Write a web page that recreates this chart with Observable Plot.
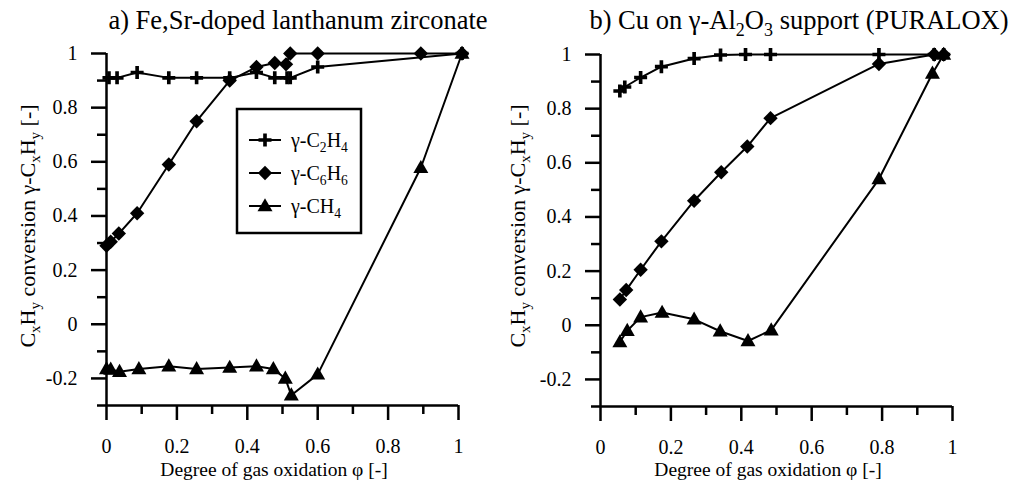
<!DOCTYPE html>
<html>
<head>
<meta charset="utf-8">
<script src="https://cdn.jsdelivr.net/npm/d3@7"></script>
<script src="https://cdn.jsdelivr.net/npm/@observablehq/plot@0.6"></script>
<style>
  html, body { margin: 0; padding: 0; background: #fff; }
  #wrap { position: relative; width: 1028px; height: 484px; overflow: hidden; background: #fff; }
  #wrap svg { position: absolute; top: 0; overflow: visible; }
  #wrap, #wrap svg, #wrap svg text, #wrap svg tspan { font-family: "Liberation Serif", "Times New Roman", Times, serif !important; }
</style>
</head>
<body>
<div id="wrap"></div>
<script>
// ---------------- data ----------------
// Panel a) Fe,Sr-doped lanthanum zirconate
const aC2H4_x = [0.007, 0.03, 0.087, 0.177, 0.256, 0.35, 0.426, 0.478, 0.513, 0.522, 0.60, 1.01];
const aC2H4_y = [0.91, 0.91, 0.93, 0.91, 0.91, 0.91, 0.93, 0.91, 0.91, 0.91, 0.95, 1.0];
const aC6H6_x = [0.0, 0.012, 0.035, 0.087, 0.177, 0.256, 0.35, 0.426, 0.478, 0.51, 0.522, 0.60, 0.893, 1.01];
const aC6H6_y = [0.29, 0.305, 0.335, 0.41, 0.59, 0.75, 0.90, 0.95, 0.965, 0.96, 1.0, 1.0, 1.0, 1.0];
const aCH4_x = [0.0, 0.012, 0.037, 0.092, 0.177, 0.256, 0.35, 0.426, 0.474, 0.508, 0.525, 0.60, 0.893, 1.01];
const aCH4_y = [-0.165, -0.167, -0.175, -0.165, -0.155, -0.165, -0.16, -0.155, -0.165, -0.2, -0.262, -0.185, 0.578, 1.0];

// Panel b) Cu on γ-Al2O3 support (PURALOX)
const bC2H4_x = [0.055, 0.069, 0.114, 0.173, 0.266, 0.341, 0.412, 0.483, 0.791, 0.948, 0.975];
const bC2H4_y = [0.865, 0.88, 0.915, 0.955, 0.985, 0.998, 1.0, 1.0, 1.0, 1.0, 1.0];
const bC6H6_x = [0.055, 0.073, 0.114, 0.173, 0.266, 0.343, 0.417, 0.483, 0.791, 0.948, 0.975];
const bC6H6_y = [0.095, 0.13, 0.205, 0.31, 0.46, 0.565, 0.66, 0.765, 0.965, 1.0, 1.0];
const bCH4_x = [0.055, 0.076, 0.114, 0.175, 0.266, 0.34, 0.419, 0.485, 0.791, 0.943, 0.975];
const bCH4_y = [-0.062, -0.02, 0.03, 0.047, 0.022, -0.022, -0.058, -0.018, 0.54, 0.93, 1.0];

// axes ticks
const xMajor = [0, 0.2, 0.4, 0.6, 0.8, 1];
const xMinor = [0.1, 0.3, 0.5, 0.7, 0.9];
const yMajor = [-0.2, 0, 0.2, 0.4, 0.6, 0.8, 1];
const yMinor = [-0.3, -0.1, 0.1, 0.3, 0.5, 0.7, 0.9];
const xDomain = [0, 1];
const yDomain = [-0.3, 1];

// text (parts: [string, isSubscript])
const titleA = [["a) Fe,Sr-doped lanthanum zirconate", 0]];
const titleB = [["b) Cu on γ-Al", 0], ["2", 1], ["O", 0], ["3", 1], [" support (PURALOX)", 0]];
const yLabel = [["C", 0], ["x", 1], ["H", 0], ["y", 1], [" conversion γ-C", 0], ["x", 1], ["H", 0], ["y", 1], [" [-]", 0]];
const xLabel = "Degree of gas oxidation φ [-]";
const legendNames = [
  [["γ-C", 0], ["2", 1], ["H", 0], ["4", 1]],
  [["γ-C", 0], ["6", 1], ["H", 0], ["6", 1]],
  [["γ-CH", 0], ["4", 1]]
];

// ---------------- helpers ----------------
const FONT = '"Liberation Serif", "Times New Roman", Times, serif';
const zip = (xs, ys) => xs.map((x, i) => ({x, y: ys[i]}));

const symPlus = {draw(ctx, size) {
  const r = Math.sqrt(size / Math.PI), t = r * 0.28;
  ctx.moveTo(-r, -t); ctx.lineTo(-t, -t); ctx.lineTo(-t, -r); ctx.lineTo(t, -r);
  ctx.lineTo(t, -t); ctx.lineTo(r, -t); ctx.lineTo(r, t); ctx.lineTo(t, t);
  ctx.lineTo(t, r); ctx.lineTo(-t, r); ctx.lineTo(-t, t); ctx.lineTo(-r, t); ctx.closePath();
}};
const symDiamond = {draw(ctx, size) {
  const r = Math.sqrt(size / Math.PI);
  ctx.moveTo(0, -r); ctx.lineTo(r, 0); ctx.lineTo(0, r); ctx.lineTo(-r, 0); ctx.closePath();
}};
const symTri = {draw(ctx, size) {
  const r = Math.sqrt(size / Math.PI);
  ctx.moveTo(0, -r * 1.05); ctx.lineTo(r, r * 0.7); ctx.lineTo(-r, r * 0.7); ctx.closePath();
}};
const symbols = [symPlus, symDiamond, symTri];
const radii = [6.5, 7.2, 7.5];

function rich(textSel, parts, fs) {
  let sub = false;
  for (const [s, isSub] of parts) {
    const t = textSel.append("tspan").text(s);
    if (isSub && !sub) { t.style("font-size", fs * 0.68 + "px").attr("dy", fs * 0.25); sub = true; }
    else if (isSub) { t.style("font-size", fs * 0.68 + "px"); }
    else if (!isSub && sub) { t.attr("dy", -fs * 0.25); sub = false; }
  }
}

function panel(series, o) {
  const marks = [];
  series.forEach((d, i) => {
    marks.push(Plot.line(d, {x: "x", y: "y", stroke: "black", strokeWidth: 2}));
    marks.push(Plot.dot(d, {x: "x", y: "y", symbol: symbols[i], r: radii[i], fill: "black", stroke: "none"}));
  });
  const chart = Plot.plot({
    width: o.width, height: 484,
    marginLeft: o.ml, marginRight: o.mr, marginTop: o.mt, marginBottom: o.mb,
    style: {fontFamily: FONT, fontSize: "20px", color: "black", background: "transparent", overflow: "visible"},
    x: {domain: xDomain},
    y: {domain: yDomain},
    marks: [
      Plot.axisX(xMinor, {tickSize: 9, tickFormat: () => "", strokeWidth: 2.5, label: null}),
      Plot.axisX(xMajor, {tickSize: 15, tickPadding: 18, tickFormat: d => String(d), fontSize: 20, strokeWidth: 2.5, label: null}),
      Plot.axisY(yMinor, {tickSize: 9, tickFormat: () => "", strokeWidth: 2.5, label: null}),
      Plot.axisY(yMajor, {tickSize: 15, tickPadding: 14, tickFormat: d => String(d), fontSize: 20, strokeWidth: 2.5, label: null}),
      Plot.ruleX([0], {y1: -0.3, y2: 1, stroke: "black", strokeWidth: 2.5}),
      Plot.ruleY([-0.3], {x1: 0, x2: 1, stroke: "black", strokeWidth: 2.5}),
      ...marks
    ]
  });
  chart.style.left = o.left + "px";
  document.getElementById("wrap").appendChild(chart);
  const svg = d3.select(chart);
  // title
  const tt = svg.append("text").attr("x", o.titleX).attr("y", 29).attr("text-anchor", "middle")
    .style("font-size", "26.5px").attr("fill", "black");
  rich(tt, o.title, 26.5);
  // y label
  const yl = svg.append("text").attr("transform", `translate(${o.ylX},${o.ylY}) rotate(-90)`)
    .attr("text-anchor", "middle").attr("dy", "0.35em")
    .style("font-size", "22px").attr("fill", "black");
  rich(yl, yLabel, 22);
  // x label
  svg.append("text").attr("x", o.xlX).attr("y", 476).attr("text-anchor", "middle")
    .style("font-size", "19.5px").attr("fill", "black").text(xLabel);
  return svg;
}

// ---------------- panel a ----------------
const svgA = panel([zip(aC2H4_x, aC2H4_y), zip(aC6H6_x, aC6H6_y), zip(aCH4_x, aCH4_y)], {
  left: 0, width: 500, ml: 106, mr: 42, mt: 53, mb: 79,
  title: titleA, titleX: 298, ylX: 27, ylY: 226, xlX: 274
});

// legend (panel a)
const lg = svgA.append("g");
lg.append("rect").attr("x", 237).attr("y", 109).attr("width", 124).attr("height", 124)
  .attr("fill", "white").attr("stroke", "black").attr("stroke-width", 2.5);
const legY = [140, 173, 206];
legendNames.forEach((name, i) => {
  const y = legY[i];
  lg.append("line").attr("x1", 249).attr("x2", 281).attr("y1", y).attr("y2", y)
    .attr("stroke", "black").attr("stroke-width", 2);
  lg.append("path").attr("transform", `translate(265,${y})`)
    .attr("d", d3.symbol(symbols[i], radii[i] * radii[i] * Math.PI)()).attr("fill", "black");
  const t = lg.append("text").attr("x", 291).attr("y", y).attr("dy", "0.35em")
    .attr("text-anchor", "start")
    .style("font-size", "20px").attr("fill", "black");
  rich(t, name, 20);
});

// ---------------- panel b ----------------
panel([zip(bC2H4_x, bC2H4_y), zip(bC6H6_x, bC6H6_y), zip(bCH4_x, bCH4_y)], {
  left: 500, width: 528, ml: 100, mr: 76, mt: 54, mb: 78,
  title: titleB, titleX: 299, ylX: 17, ylY: 226, xlX: 268
});
</script>
</body>
</html>
